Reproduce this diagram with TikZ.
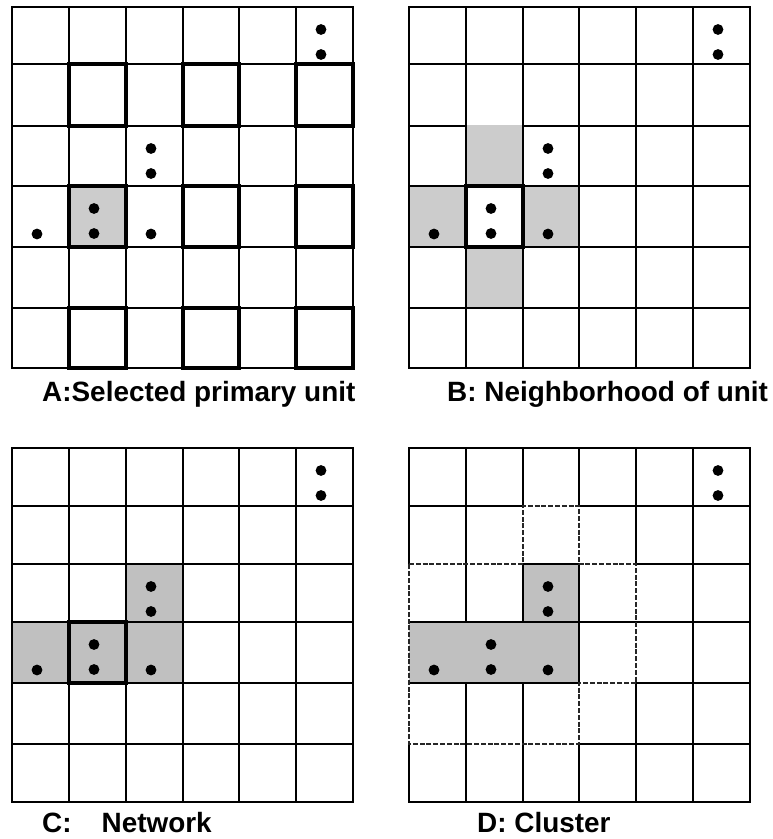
\documentclass[tikz,border=0pt]{standalone}
\usepackage{fontspec}
\setmainfont{Liberation Sans}
\definecolor{grayAB}{RGB}{204,204,204}
\definecolor{grayCD}{RGB}{192,192,192}
\tikzset{
  gridline/.style={line width=1.9pt, line cap=rect},
  unitbox/.style={line width=3.8pt},
  clusteredge/.style={line width=1.9pt, draw=black!85, dash pattern=on 5pt off 1.8pt},
  lbl/.style={anchor=base west, inner sep=0pt, font=\fontsize{27.9pt}{33pt}\selectfont\bfseries},
}
\newcommand\mkgrid[3]{\foreach \xx [count=\ii from 0] in {#2}{\foreach \yy [count=\jj from 0] in {#3}{\coordinate (#1-\ii-\jj) at (\xx,\yy);}}}
\newcommand\fullgrid[1]{\foreach \k in {0,...,6}{\draw[gridline] (#1-\k-0) -- (#1-\k-6); \draw[gridline] (#1-0-\k) -- (#1-6-\k);}}
\newcommand\pairdots[3]{\fill[shift={(#1-#2-#3)}] (25,22.5) circle (5.4pt) (25,47.5) circle (5.4pt);}
\newcommand\onedot[3]{\fill[shift={(#1-#2-#3)}] (25,48) circle (5.4pt);}
\newcommand\alldots[1]{\pairdots{#1}{5}{0}\pairdots{#1}{2}{2}\pairdots{#1}{1}{3}\onedot{#1}{0}{3}\onedot{#1}{2}{3}}
\begin{document}
\begin{tikzpicture}[x=1pt,y=-1pt]
\useasboundingbox (0,0) rectangle (772,839);
\mkgrid{A}{12,69,126,183,239,296,353}{7,64,126,186,247,308,368}
\mkgrid{B}{409,466,523,579,636,693,750}{7,64,126,186,247,308,368}
\mkgrid{C}{12,69,126,183,239,296,353}{448,506,564,622,683,744,802}
\mkgrid{D}{409,466,523,579,636,693,750}{448,506,564,622,683,744,802}

% ---- A: selected primary unit
\fill[grayAB] (A-1-3) rectangle (A-2-4);
\fullgrid{A}
\foreach \c/\cc in {1/2,3/4,5/6}{\foreach \r/\rr in {1/2,3/4,5/6}{\draw[unitbox] (A-\c-\r) rectangle (A-\cc-\rr);}}
\alldots{A}

% ---- B: neighborhood of unit
\fill[grayAB] (B-1-2) rectangle (B-2-3);
\fill[grayAB] (B-0-3) rectangle (B-1-4);
\fill[grayAB] (B-2-3) rectangle (B-3-4);
\fill[grayAB] (B-1-4) rectangle (B-2-5);
\fullgrid{B}
\fill[grayAB] ([xshift=1pt,yshift=1.5pt]B-1-2) rectangle ([xshift=-1pt,yshift=-1pt]B-2-2);
\draw[unitbox] (B-1-3) rectangle (B-2-4);
\alldots{B}

% ---- C: network
\fill[grayCD] (C-2-2) rectangle (C-3-3);
\fill[grayCD] (C-0-3) rectangle (C-3-4);
\fullgrid{C}
\draw[unitbox] (C-1-3) rectangle (C-2-4);
\alldots{C}

% ---- D: cluster
\fill[grayCD] (D-2-2) rectangle (D-3-3);
\fill[grayCD] (D-0-3) rectangle (D-3-4);
\draw[gridline] (D-0-0) -- (D-6-0);
\draw[gridline] (D-0-1) -- (D-2-1) (D-3-1) -- (D-6-1);
\draw[gridline] (D-2-2) -- (D-3-2) (D-4-2) -- (D-6-2);
\draw[gridline] (D-0-3) -- (D-6-3);
\draw[gridline] (D-0-4) -- (D-3-4) (D-4-4) -- (D-6-4);
\draw[gridline] (D-3-5) -- (D-6-5);
\draw[gridline] (D-0-6) -- (D-6-6);
\draw[gridline] (D-0-0) -- (D-0-2) (D-0-5) -- (D-0-6);
\draw[gridline] (D-1-0) -- (D-1-3) (D-1-4) -- (D-1-6);
\draw[gridline] (D-2-0) -- (D-2-1) (D-2-2) -- (D-2-3) (D-2-4) -- (D-2-6);
\draw[gridline] (D-3-0) -- (D-3-1) (D-3-2) -- (D-3-4) (D-3-5) -- (D-3-6);
\draw[gridline] (D-4-0) -- (D-4-2) (D-4-4) -- (D-4-6);
\draw[gridline] (D-5-0) -- (D-5-6) (D-6-0) -- (D-6-6);
\draw[clusteredge] (D-0-2) -- (D-2-2) -- (D-2-1) -- (D-3-1) -- (D-3-2) -- (D-4-2) -- (D-4-4) -- (D-3-4) -- (D-3-5) -- (D-0-5) -- cycle;
\alldots{D}

% ---- labels
\node[lbl] (labA) at (42,401) {A:Selected primary unit};
\node[lbl] (labB) at (447,401) {B: Neighborhood of unit};
\node[lbl] (labC) at (42,832) {C:\hspace{30pt}Network};
\node[lbl] (labD) at (477,832) {D: Cluster};
\end{tikzpicture}
\end{document}
